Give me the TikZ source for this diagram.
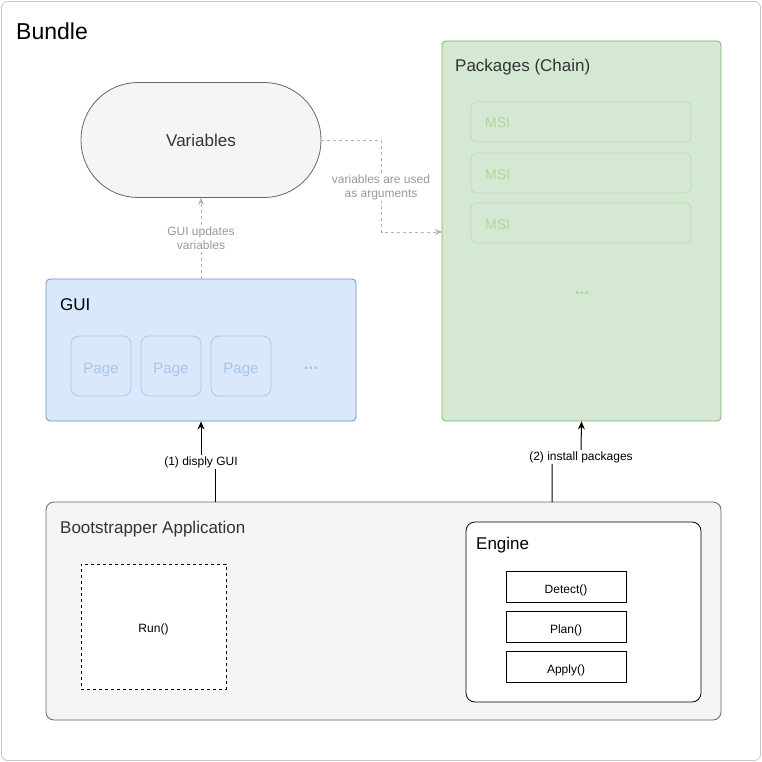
\documentclass[tikz,border=0pt]{standalone}
\usepackage{fontspec}
\setmainfont{Liberation Sans}
\usetikzlibrary{arrows.meta,calc}
\definecolor{bundleline}{HTML}{C8C8C8}
\definecolor{graybg}{HTML}{F5F5F5}
\definecolor{grayline}{HTML}{666666}
\definecolor{greenbg}{HTML}{D5E8D4}
\definecolor{greenline}{HTML}{82B366}
\definecolor{msiline}{HTML}{B9E0A5}
\definecolor{msitext}{HTML}{A9DA94}
\definecolor{bluebg}{HTML}{DAE8FC}
\definecolor{blueline}{HTML}{6C8EBF}
\definecolor{pageline}{HTML}{AFC7EA}
\definecolor{pagetext}{HTML}{A9C4EB}
\definecolor{garrow}{HTML}{B3B3B3}
\definecolor{glabel}{HTML}{999999}
\definecolor{darktext}{HTML}{333333}
\tikzset{
  box/.style={draw, inner sep=0pt, line width=0.8pt},
  rbox/.style={box, rounded corners=4pt},
  title/.style={anchor=base west, inner sep=0pt, font=\fontsize{17}{20}\selectfont},
  small/.style={font=\fontsize{12}{14}\selectfont, inner sep=1pt, align=center},
  garr/.style={draw=garrow, line width=0.8pt, dash pattern=on 3pt off 3pt, -{Stealth[length=7pt,width=6pt]}},
  barr/.style={draw=black, line width=1pt, -{Stealth[length=8pt,width=7pt]}},
  msibox/.style={rbox, draw=msiline, fill=greenbg, minimum width=220pt, minimum height=40pt, rounded corners=5pt},
  pagebox/.style={rbox, draw=pageline, fill=bluebg, minimum width=60pt, minimum height=60pt, rounded corners=8pt, text=pagetext, font=\fontsize{15}{18}\selectfont, text height=14pt, text depth=0pt},
  method/.style={box, fill=white, minimum width=120pt, minimum height=31pt, font=\fontsize{12}{14}\selectfont, text height=13pt, text depth=0pt},
  dots/.style={inner sep=0pt, font=\bfseries\fontsize{17}{20}\selectfont}
}
\begin{document}
\begin{tikzpicture}[x=1pt,y=-1pt]
\useasboundingbox (0,0) rectangle (762,762);
% outer bundle
\node[box, draw=bundleline, fill=white, rounded corners=6pt, minimum width=759pt, minimum height=759pt] (bundle) at (381,381) {};
\node[anchor=base west, inner sep=0pt, font=\fontsize{23}{26}\selectfont] (bundlet) at (16,40) {Bundle};

% Variables
\node[box, draw=grayline, fill=graybg, rounded corners=57pt, minimum width=240pt, minimum height=115pt, font=\fontsize{17}{20}\selectfont, text=darktext] (var) at (201,140) {Variables};

% Packages
\node[rbox, draw=greenline, fill=greenbg, minimum width=279pt, minimum height=380pt] (pk) at (581.5,231) {};
\node[title, text=darktext] (pkt) at (455,72) {Packages (Chain)};
\node[msibox] (m1) at (581,122) {};
\node[msibox] (m2) at (581,173) {};
\node[msibox] (m3) at (581,223) {};
\node[anchor=base west, inner sep=0pt, text=msitext, font=\fontsize{14}{16}\selectfont] (m1t) at (485,128) {MSI};
\node[anchor=base west, inner sep=0pt, text=msitext, font=\fontsize{14}{16}\selectfont] (m2t) at (485,179) {MSI};
\node[anchor=base west, inner sep=0pt, text=msitext, font=\fontsize{14}{16}\selectfont] (m3t) at (485,229) {MSI};
\node[dots, text=msitext, anchor=base] (pkdots) at (582,294) {...};

% GUI
\node[rbox, draw=blueline, fill=bluebg, minimum width=310pt, minimum height=142pt] (gui) at (201,350) {};
\node[title, text=black] (guit) at (60,310) {GUI};
\node[pagebox] (p1) at (101,366) {Page};
\node[pagebox] (p2) at (171,366) {Page};
\node[pagebox] (p3) at (241,366) {Page};
\node[dots, text=pagetext, anchor=base] (guidots) at (311,369) {...};

% Bootstrapper
\node[rbox, draw=grayline, fill=graybg, rounded corners=8pt, minimum width=675pt, minimum height=218pt] (boot) at (383.5,611) {};
\node[title, text=darktext] (boott) at (60,533) {Bootstrapper Application};
\node[box, fill=white, dashed, line width=0.8pt, minimum width=145pt, minimum height=125pt, font=\fontsize{12}{14}\selectfont, text height=11pt, text depth=0pt] (run) at (153.5,626.5) {Run()};
\node[box, fill=white, rounded corners=9pt, minimum width=235pt, minimum height=180pt] (engine) at (583.5,612) {};
\node[title, text=black] (enginet) at (476,549) {Engine};
\node[method] (detect) at (566,586.5) {Detect()};
\node[method] (plan) at (566,626.5) {Plan()};
\node[method] (apply) at (566,666.5) {Apply()};

% connectors
\draw[garr] (gui.north) -- (var.south);
\node[small, text=glabel, fill=white] (l3) at (201,238) {GUI updates\\variables};

\coordinate (c2) at (442,232);
\draw[garr] (var.east) -| ($(var.east)!0.5!(c2)$) |- (c2);
\node[small, text=glabel, fill=white] (l4) at (381,187) {variables are used\\as arguments};

\coordinate (b1) at (215,502);
\coordinate (b2) at (552,502);
\node[small, fill=white] (l1) at (201,462) {(1) disply GUI};
\node[small, fill=white] (l2) at (581,457) {(2) install packages};
\draw[barr] (b1) -- (b1 |- l1.south) (l1.north) -- (gui.south);
\draw[barr] (b2) -- (b2 |- l2.south) (l2.north) -- (pk.south);
\end{tikzpicture}
\end{document}
